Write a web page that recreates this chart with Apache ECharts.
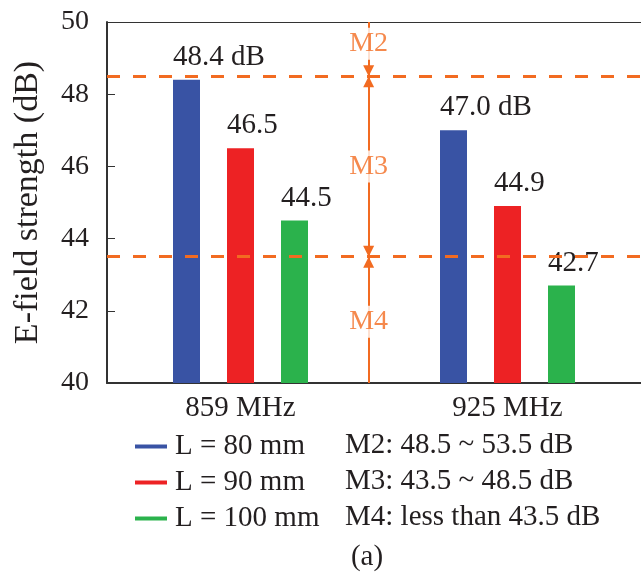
<!DOCTYPE html>
<html>
<head>
<meta charset="utf-8">
<script src="https://cdn.jsdelivr.net/npm/echarts@6/dist/echarts.min.js"></script>
<style>
html,body{margin:0;padding:0;background:#fff;}
#chart{width:641px;height:581px;}
</style>
</head>
<body>
<div id="chart"></div>
<script>
const categories = ['859 MHz', '925 MHz'];
const seriesNames = ['L = 80 mm', 'L = 90 mm', 'L = 100 mm'];
const valuesL80 = [48.4, 47.0];
const valuesL90 = [46.5, 44.9];
const valuesL100 = [44.5, 42.7];
const thresholds = [48.5, 43.5];
const zoneNames = ['M2', 'M3', 'M4'];
const zoneLabelY = [49.4, 46.0, 41.7];
const dividerX = 0.98;
const zoneDescriptions = ['M2: 48.5 ~ 53.5 dB', 'M3: 43.5 ~ 48.5 dB', 'M4: less than 43.5 dB'];
const yTicks = { min: 40, max: 50, interval: 2 };

const FONT = '"Liberation Serif", "Times New Roman", serif';
const INK = '#231F20';
const ORANGE = '#F26B21';
const COLORS = ['#3953A4', '#ED2224', '#2BB24C'];
const ARROW = { symbol: 'triangle', symbolSize: [11, 11], symbolOffset: [0, 5.5] };

function barSeries(name, values, color, unit) {
  return {
    name: name,
    type: 'bar',
    xAxisIndex: 0,
    yAxisIndex: 0,
    barWidth: 27,
    barGap: '100%',
    itemStyle: { color: color },
    data: values,
    label: {
      show: true,
      position: 'top',
      distance: 8,
      align: 'left',
      offset: [-13.5, 0],
      fontSize: 29,
      fontFamily: FONT,
      color: INK,
      formatter: function (p) { return p.value.toFixed(1) + (unit ? ' dB' : ''); }
    }
  };
}

function pt(x, y, withArrow) {
  const o = { coord: [x, y] };
  if (withArrow) {
    o.symbol = ARROW.symbol; o.symbolSize = ARROW.symbolSize; o.symbolOffset = ARROW.symbolOffset;
  } else {
    o.symbol = 'none';
  }
  return o;
}

const solidOrange = { color: ORANGE, width: 2, type: 'solid' };

const chart = echarts.init(document.getElementById('chart'), null, { renderer: 'canvas' });
const seg1 = [pt(dividerX, yTicks.max, false), pt(dividerX, thresholds[0], true)];
const seg2 = [pt(dividerX, thresholds[0], true), pt(dividerX, thresholds[1], true)];
const seg3 = [pt(dividerX, yTicks.min, false), pt(dividerX, thresholds[1], true)];
seg1[0].lineStyle = solidOrange; seg2[0].lineStyle = solidOrange; seg3[0].lineStyle = solidOrange;

const option = {
  backgroundColor: '#fff',
  animation: false,
  grid: { left: 107, top: 22, width: 540, height: 361, containLabel: false },
  xAxis: [
    {
      type: 'category',
      data: categories,
      position: 'bottom',
      axisLine: { lineStyle: { color: '#333', width: 2 } },
      axisTick: { show: false },
      axisLabel: { fontSize: 29, fontFamily: FONT, color: INK, margin: 11 },
      splitLine: { show: false }
    },
    {
      type: 'value',
      min: 0,
      max: 2,
      position: 'top',
      axisLine: { show: true, lineStyle: { color: '#333', width: 1 } },
      axisTick: { show: false },
      axisLabel: { show: false },
      splitLine: { show: false }
    }
  ],
  yAxis: {
    type: 'value',
    min: yTicks.min,
    max: yTicks.max,
    interval: yTicks.interval,
    name: 'E-field strength (dB)',
    nameLocation: 'middle',
    nameGap: 62,
    nameTextStyle: { fontSize: 34, fontFamily: FONT, color: INK },
    axisLine: { show: true, lineStyle: { color: '#333', width: 2 } },
    axisTick: { show: true, inside: true, length: 8, lineStyle: { color: '#333', width: 1 } },
    axisLabel: { fontSize: 28, fontFamily: FONT, color: INK, margin: 18 },
    splitLine: { show: false }
  },
  legend: {
    orient: 'vertical',
    left: 130,
    top: 427,
    itemWidth: 32,
    itemHeight: 4,
    itemGap: 7,
    icon: 'rect',
    selectedMode: false,
    data: seriesNames,
    textStyle: { fontSize: 29, fontFamily: FONT, color: INK, padding: [0, 0, 0, 3] }
  },
  series: [
    barSeries(seriesNames[0], valuesL80, COLORS[0], true),
    barSeries(seriesNames[1], valuesL90, COLORS[1], false),
    barSeries(seriesNames[2], valuesL100, COLORS[2], false),
    {
      type: 'scatter',
      xAxisIndex: 1,
      yAxisIndex: 0,
      symbolSize: 0,
      silent: true,
      z: 5,
      data: zoneNames.map(function (n, i) { return [dividerX, zoneLabelY[i], n]; }),
      label: {
        show: true,
        position: 'inside',
        formatter: function (p) { return p.data[2]; },
        fontSize: 28,
        fontFamily: FONT,
        color: ORANGE,
        backgroundColor: '#fff',
        padding: [3, 0, 1, 0]
      },
      markLine: {
        silent: true,
        animation: false,
        label: { show: false },
        symbol: 'none',
        data: [
          { yAxis: thresholds[0], symbol: 'none', lineStyle: { color: ORANGE, width: 3, type: [13, 13] } },
          { yAxis: thresholds[1], symbol: 'none', lineStyle: { color: ORANGE, width: 3, type: [13, 13] } },
          seg1, seg2, seg3
        ]
      }
    }
  ],
  graphic: zoneDescriptions.map(function (t, i) {
    return {
      type: 'text',
      x: 345,
      y: 445 + i * 36,
      style: { text: t, font: '29px ' + FONT, fill: INK, verticalAlign: 'middle' }
    };
  }).concat([{
    type: 'text',
    x: 367,
    y: 557,
    style: { text: '(a)', font: '29px ' + FONT, fill: INK, align: 'center', verticalAlign: 'middle' }
  }])
};
chart.setOption(option);
</script>
</body>
</html>
